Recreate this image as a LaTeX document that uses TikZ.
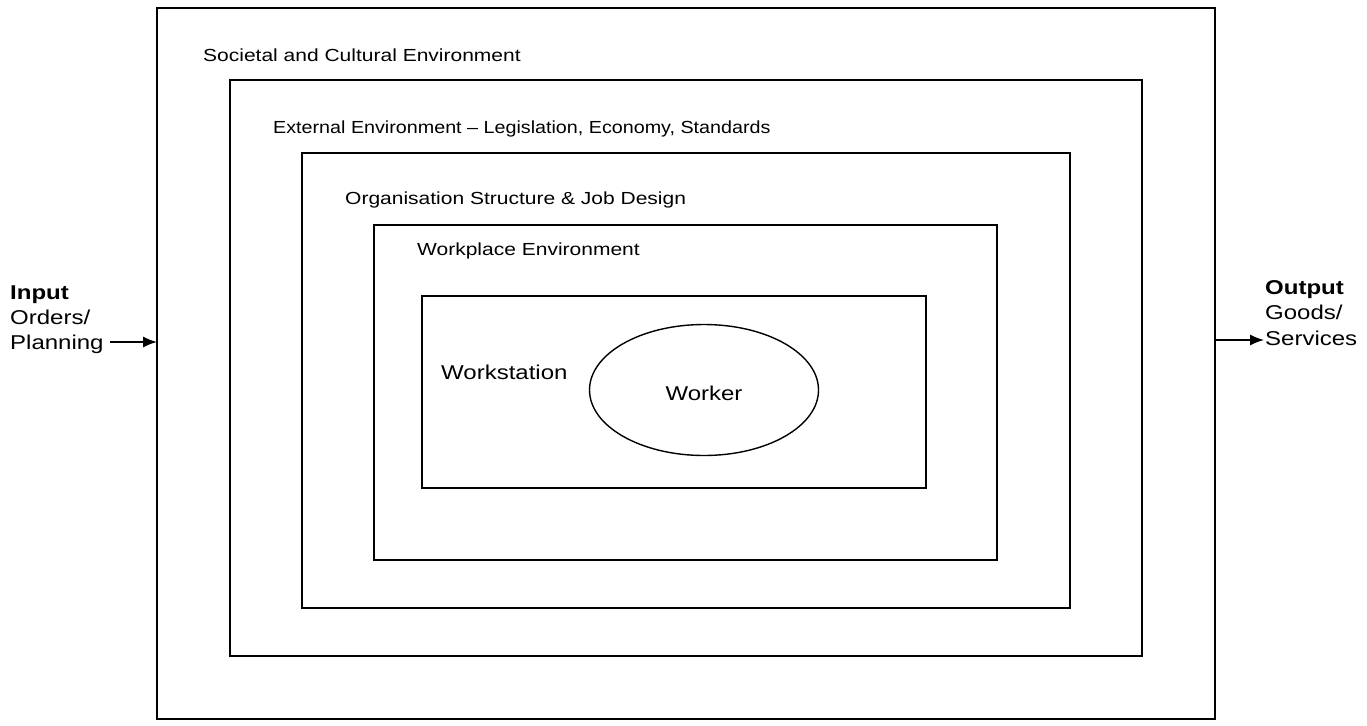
\documentclass[tikz,border=0pt]{standalone}
\usepackage{fontspec}
\setmainfont{Liberation Sans}
\usetikzlibrary{arrows.meta,shapes.geometric}
\newcommand{\stretchx}[2][1.2]{\scalebox{#1}[1]{#2}}
\begin{document}
\begin{tikzpicture}[x=1pt,y=-1pt,
  box/.style={draw=black,line width=1.4pt},
  lbl/.style={anchor=base west,inner sep=0pt,font=\fontsize{17.5}{21}\selectfont},
  big/.style={inner sep=0pt,font=\fontsize{20}{25}\selectfont},
  io/.style={anchor=base west,inner sep=0pt,font=\fontsize{20}{25}\selectfont},
  flow/.style={line width=1.4pt,-{Latex[length=14pt,width=11pt]}}]
\useasboundingbox (0,0) rectangle (1367,725);
\draw[box] (157,8) rectangle (1215,719);
\draw[box] (230,80) rectangle (1142,656);
\draw[box] (302,153) rectangle (1070,608);
\draw[box] (374,225) rectangle (997,560);
\draw[box] (422,296) rectangle (926,488);
\node[draw,line width=1.4pt,ellipse,minimum width=229pt,minimum height=131pt,inner sep=0pt] (worker) at (704,390) {};
\node[big,anchor=base] (wl) at (704,400) {\stretchx{Worker}};
\node[lbl] (l1) at (203,61) {\stretchx{Societal and Cultural Environment}};
\node[lbl] (l2) at (273,133) {\stretchx[1.127]{External Environment – Legislation, Economy, Standards}};
\node[lbl] (l3) at (345,204) {\stretchx{Organisation Structure \& Job Design}};
\node[lbl] (l4) at (417,255) {\stretchx{Workplace Environment}};
\node[big,anchor=base west] (l5) at (441,379) {\stretchx{Workstation}};
\node[io] (in1) at (10,299) {\stretchx{\textbf{Input}}};
\node[io] (in2) at (10,324) {\stretchx{Orders/}};
\node[io] (in3) at (10,349) {\stretchx{Planning}};
\node[io] (out1) at (1265,294) {\stretchx{\textbf{Output}}};
\node[io] (out2) at (1265,319) {\stretchx{Goods/}};
\node[io] (out3) at (1265,345) {\stretchx{Services}};
\coordinate (ia) at (110,342);
\coordinate (ib) at (157,342);
\coordinate (oa) at (1215,340);
\coordinate (ob) at (1264,340);
\draw[flow] (ia) -- (ib);
\draw[flow] (oa) -- (ob);
\end{tikzpicture}
\end{document}
